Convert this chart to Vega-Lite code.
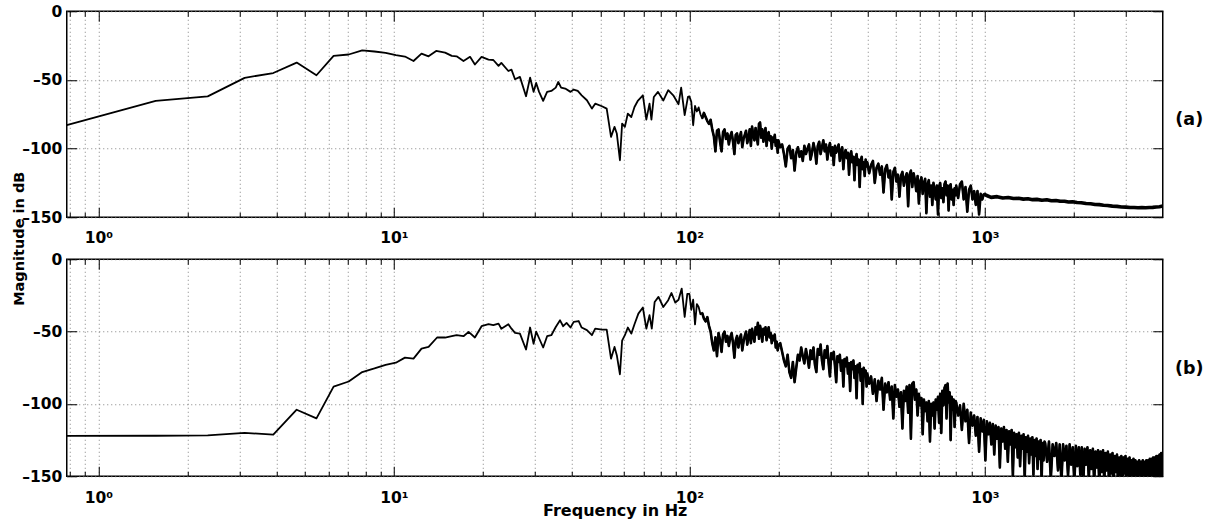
{
"$schema": "https://vega.github.io/schema/vega-lite/v6.json",
"background": "white",
"padding": {"left": 10.75, "top": 3.25, "right": 0, "bottom": 0},
"spacing": 42,
"bounds": "flush",
"config": {
 "view": {"stroke": "black", "strokeWidth": 1.5},
 "axis": {"domain": false, "tickColor": "black", "tickWidth": 1, "labelFont": "DejaVu Sans", "labelFontWeight": "bold", "labelFontSize": 15.5, "labelColor": "black", "titleFont": "DejaVu Sans", "titleFontWeight": "bold", "titleColor": "black", "gridColor": "#808080", "gridDash": [1, 3], "gridWidth": 1, "gridOpacity": 1, "labelOverlap": false, "labelFlush": false, "labelBound": false}
},
"datasets": {
"a": [
{"f":0.78125,"m":-83},{"f":1.5625,"m":-65.3},{"f":2.34375,"m":-62},{"f":3.125,"m":-48.5},{"f":3.90625,"m":-45},{"f":4.6875,"m":-37.4},{"f":5.46875,"m":-46.6},{"f":6.25,"m":-32.5},{"f":7.03125,"m":-31.5},{"f":7.8125,"m":-28.5},{"f":8.59375,"m":-29.3},{"f":9.375,"m":-30.3},{"f":10.15625,"m":-32},{"f":10.9,"m":-33},{"f":11.65,"m":-36.2},{"f":12.4,"m":-30.8},{"f":13.1,"m":-32.8},{"f":13.9,"m":-28.9},{"f":14.9,"m":-30.1},{"f":15.7,"m":-32.5},{"f":16.3,"m":-32.8},{"f":17.2,"m":-36.2},{"f":18.1,"m":-33.2},{"f":18.8,"m":-38.8},{"f":19.8,"m":-33.2},{"f":20.9,"m":-35.2},{"f":21.7,"m":-35.5},{"f":22.6,"m":-39.8},{"f":23.1,"m":-37.6},{"f":24.4,"m":-43.5},{"f":25,"m":-42.5},{"f":25.7,"m":-49.5},{"f":26.7,"m":-47.8},{"f":28,"m":-61.9},{"f":28.9,"m":-48.3},{"f":29.7,"m":-58.7},{"f":30.3,"m":-52.2},{"f":31,"m":-58.7},{"f":32,"m":-65.3},{"f":33,"m":-58.7},{"f":34.1,"m":-58},{"f":35.3,"m":-55.6},{"f":36,"m":-51.5},{"f":36.8,"m":-55.6},{"f":38,"m":-56.3},{"f":39.6,"m":-58.7},{"f":40.6,"m":-57},{"f":41.9,"m":-58},{"f":43.2,"m":-61.2},{"f":45,"m":-64.8},{"f":46.8,"m":-70.9},{"f":48,"m":-67.3},{"f":50.6,"m":-69.2},{"f":52.5,"m":-70.9},{"f":54.3,"m":-91.5},{"f":55.8,"m":-84.2},{"f":56.8,"m":-89},{"f":58.2,"m":-108.5},{"f":59.2,"m":-81.8},{"f":60.5,"m":-84.2},{"f":61.9,"m":-74.5},{"f":63.6,"m":-77},{"f":65.2,"m":-69.7},{"f":67,"m":-65},{"f":69.6,"m":-61.2},{"f":71.5,"m":-78.9},{"f":73.3,"m":-67.3},{"f":74.4,"m":-78.9},{"f":75.8,"m":-62.4},{"f":78.3,"m":-58.7},{"f":81.6,"m":-65},{"f":84.8,"m":-57.5},{"f":88.2,"m":-61.2},{"f":91.9,"m":-67.7},{"f":93.8,"m":-55.6},{"f":96.4,"m":-75.7},{"f":98.9,"m":-62.4},
{"f":100,"m":-62},{"f":101.5,"m":-66},{"f":103,"m":-83},{"f":104.5,"m":-69},{"f":106,"m":-73},{"f":107.5,"m":-70},{"f":109,"m":-75},{"f":110.5,"m":-78},{"f":112,"m":-74},{"f":113.5,"m":-77},{"f":115,"m":-80},{"f":116.5,"m":-82},{"f":118,"m":-79},{"f":119.5,"m":-86},{"f":121,"m":-91},{"f":122.5,"m":-102},{"f":124,"m":-87},{"f":125.5,"m":-86},{"f":127,"m":-95},{"f":128.5,"m":-102},{"f":130,"m":-88},{"f":131.5,"m":-86},{"f":133,"m":-93},{"f":134.5,"m":-89},{"f":136,"m":-97},{"f":137.5,"m":-91},{"f":139,"m":-88},{"f":140.5,"m":-95},{"f":142,"m":-104},{"f":143.5,"m":-90},{"f":145,"m":-89},{"f":146.5,"m":-96},{"f":148,"m":-92},{"f":149.5,"m":-88},{"f":151,"m":-99},{"f":152.5,"m":-93},{"f":154,"m":-90},{"f":155.5,"m":-87},{"f":157,"m":-96},{"f":158.5,"m":-92},{"f":160,"m":-86},{"f":161.5,"m":-98},{"f":163,"m":-84},{"f":164.5,"m":-90},{"f":166,"m":-94},{"f":167.5,"m":-85},{"f":169,"m":-91},{"f":170.5,"m":-97},{"f":172,"m":-82},{"f":173.5,"m":-81},{"f":175,"m":-92},{"f":176.5,"m":-86},{"f":178,"m":-95},{"f":179.5,"m":-89},{"f":181,"m":-85},{"f":182.5,"m":-98},{"f":184,"m":-90},{"f":185.5,"m":-88},{"f":187,"m":-94},{"f":188.5,"m":-91},{"f":190,"m":-100},{"f":191.5,"m":-92},{"f":193,"m":-95},{"f":194.5,"m":-90},{"f":196,"m":-98},{"f":197.5,"m":-94},{"f":199,"m":-103},
{"f":200,"m":-94},{"f":203,"m":-99},{"f":206,"m":-97},{"f":209,"m":-104},{"f":212,"m":-113},{"f":215,"m":-100},{"f":218,"m":-98},{"f":221,"m":-107},{"f":224,"m":-101},{"f":227,"m":-116},{"f":230,"m":-103},{"f":233,"m":-99},{"f":236,"m":-106},{"f":239,"m":-102},{"f":242,"m":-109},{"f":245,"m":-98},{"f":248,"m":-104},{"f":251,"m":-100},{"f":254,"m":-97},{"f":257,"m":-108},{"f":260,"m":-103},{"f":263,"m":-96},{"f":266,"m":-101},{"f":269,"m":-111},{"f":272,"m":-98},{"f":275,"m":-95},{"f":278,"m":-104},{"f":281,"m":-99},{"f":284,"m":-94},{"f":287,"m":-102},{"f":290,"m":-97},{"f":293,"m":-108},{"f":296,"m":-100},{"f":299,"m":-96},{"f":302,"m":-105},{"f":305,"m":-99},{"f":308,"m":-112},{"f":311,"m":-98},{"f":314,"m":-103},{"f":317,"m":-100},{"f":320,"m":-97},{"f":323,"m":-109},{"f":326,"m":-102},{"f":329,"m":-99},{"f":332,"m":-115},{"f":335,"m":-104},{"f":338,"m":-101},{"f":341,"m":-107},{"f":344,"m":-103},{"f":347,"m":-119},{"f":350,"m":-105},{"f":353,"m":-102},{"f":356,"m":-110},{"f":359,"m":-106},{"f":362,"m":-123},{"f":365,"m":-107},{"f":368,"m":-104},{"f":371,"m":-112},{"f":374,"m":-108},{"f":377,"m":-128},{"f":380,"m":-109},{"f":383,"m":-106},{"f":386,"m":-115},{"f":389,"m":-110},{"f":392,"m":-120},{"f":395,"m":-108},{"f":398,"m":-113},
{"f":400,"m":-110},{"f":406,"m":-118},{"f":412,"m":-112},{"f":418,"m":-109},{"f":424,"m":-125},{"f":430,"m":-114},{"f":436,"m":-111},{"f":442,"m":-119},{"f":448,"m":-113},{"f":454,"m":-132},{"f":460,"m":-115},{"f":466,"m":-112},{"f":472,"m":-121},{"f":478,"m":-116},{"f":484,"m":-137},{"f":490,"m":-117},{"f":496,"m":-114},{"f":502,"m":-124},{"f":508,"m":-119},{"f":514,"m":-135},{"f":520,"m":-120},{"f":526,"m":-117},{"f":532,"m":-127},{"f":538,"m":-121},{"f":544,"m":-118},{"f":550,"m":-142},{"f":556,"m":-119},{"f":562,"m":-116},{"f":568,"m":-128},{"f":574,"m":-118},{"f":580,"m":-123},{"f":586,"m":-131},{"f":592,"m":-120},{"f":598,"m":-140},{"f":604,"m":-124},{"f":610,"m":-121},{"f":616,"m":-133},{"f":622,"m":-125},{"f":628,"m":-122},{"f":634,"m":-147},{"f":640,"m":-126},{"f":646,"m":-123},{"f":652,"m":-135},{"f":658,"m":-127},{"f":664,"m":-141},{"f":670,"m":-125},{"f":676,"m":-130},{"f":682,"m":-137},{"f":688,"m":-127},{"f":694,"m":-148},{"f":700,"m":-128},{"f":706,"m":-125},{"f":712,"m":-136},{"f":718,"m":-129},{"f":724,"m":-139},{"f":730,"m":-126},{"f":736,"m":-124},{"f":742,"m":-134},{"f":748,"m":-127},{"f":754,"m":-145},{"f":760,"m":-128},{"f":766,"m":-126},{"f":772,"m":-137},{"f":778,"m":-130},{"f":784,"m":-141},{"f":790,"m":-129},{"f":796,"m":-134},
{"f":800,"m":-127},{"f":812,"m":-136},{"f":824,"m":-126},{"f":836,"m":-124},{"f":848,"m":-137},{"f":860,"m":-128},{"f":872,"m":-146},{"f":884,"m":-130},{"f":896,"m":-127},{"f":908,"m":-137},{"f":920,"m":-131},{"f":932,"m":-141},{"f":944,"m":-131},{"f":956,"m":-148},{"f":968,"m":-133},{"f":980,"m":-137},{"f":992,"m":-133},
{"f":1010,"m":-134},{"f":1050,"m":-135.5},{"f":1100,"m":-135},{"f":1150,"m":-136},{"f":1200,"m":-135.6},{"f":1250,"m":-136.4},{"f":1300,"m":-136.2},{"f":1350,"m":-136.8},{"f":1400,"m":-136.5},{"f":1450,"m":-137.2},{"f":1500,"m":-137},{"f":1560,"m":-137.6},{"f":1620,"m":-137.3},{"f":1680,"m":-138},{"f":1740,"m":-137.8},{"f":1800,"m":-138.4},{"f":1860,"m":-138.3},{"f":1920,"m":-138.9},{"f":1980,"m":-138.7},{"f":2050,"m":-139.3},{"f":2120,"m":-139.4},{"f":2200,"m":-140},{"f":2280,"m":-140.2},{"f":2360,"m":-140.7},{"f":2440,"m":-140.8},{"f":2520,"m":-141.3},{"f":2600,"m":-141.4},{"f":2700,"m":-141.9},{"f":2800,"m":-142.1},{"f":2900,"m":-142.5},{"f":3000,"m":-142.6},{"f":3100,"m":-142.9},{"f":3200,"m":-142.9},{"f":3300,"m":-143.1},{"f":3400,"m":-143},{"f":3500,"m":-143.1},{"f":3600,"m":-142.9},{"f":3700,"m":-142.8},{"f":3800,"m":-142.5},{"f":3900,"m":-142.3},{"f":4000,"m":-141.8}
],
"b": [
{"f":0.78125,"m":-122.1},{"f":1.5625,"m":-122},{"f":2.34375,"m":-121.7},{"f":3.125,"m":-120},{"f":3.90625,"m":-121.2},{"f":4.6875,"m":-104},{"f":5.46875,"m":-110},{"f":6.25,"m":-88},{"f":7.03125,"m":-84.5},{"f":7.8125,"m":-78},{"f":8.59375,"m":-75.5},{"f":9.375,"m":-73},{"f":10.15625,"m":-71.5},{"f":10.9,"m":-68},{"f":11.65,"m":-68.7},{"f":12.4,"m":-61.8},{"f":13.1,"m":-60.6},{"f":14,"m":-54.1},{"f":14.9,"m":-54.1},{"f":15.7,"m":-53.2},{"f":16.3,"m":-52.5},{"f":17.2,"m":-53.2},{"f":17.9,"m":-50.2},{"f":18.8,"m":-54.1},{"f":19.8,"m":-46.3},{"f":20.9,"m":-44.9},{"f":21.7,"m":-45.6},{"f":22.6,"m":-44.5},{"f":23.1,"m":-48},{"f":24.4,"m":-44.9},{"f":25,"m":-48},{"f":25.7,"m":-50.9},{"f":26.7,"m":-51.4},{"f":28,"m":-62.4},{"f":28.9,"m":-47.2},{"f":29.7,"m":-58.4},{"f":30.3,"m":-50},{"f":31,"m":-54.6},{"f":32,"m":-61},{"f":33,"m":-53.2},{"f":34.1,"m":-52.5},{"f":35.3,"m":-46.8},{"f":36.5,"m":-42.2},{"f":37.4,"m":-46.3},{"f":38.4,"m":-44},{"f":39.6,"m":-47.2},{"f":40.6,"m":-43.3},{"f":42.2,"m":-42.7},{"f":43.2,"m":-47.2},{"f":45,"m":-49},{"f":46.8,"m":-52.5},{"f":48,"m":-48},{"f":50.6,"m":-48.7},{"f":52.5,"m":-48.7},{"f":54.3,"m":-68.7},{"f":55.8,"m":-60.6},{"f":56.8,"m":-66.3},{"f":58.2,"m":-79.5},{"f":59.2,"m":-56.3},{"f":60.5,"m":-52.5},{"f":61.9,"m":-47.2},{"f":63.6,"m":-51.4},{"f":65.2,"m":-44.9},{"f":67.2,"m":-37.6},{"f":69.6,"m":-33.4},{"f":71.5,"m":-48},{"f":73.3,"m":-38.6},{"f":74.6,"m":-48},{"f":76.3,"m":-29.5},{"f":78.6,"m":-26},{"f":81.6,"m":-33},{"f":84.8,"m":-28.3},{"f":87,"m":-23.3},{"f":89.6,"m":-30},{"f":91.9,"m":-28},{"f":94.2,"m":-20.3},{"f":96.4,"m":-39.9},{"f":98.4,"m":-24},
{"f":100,"m":-24},{"f":101.5,"m":-35},{"f":103,"m":-28},{"f":104.5,"m":-45},{"f":106,"m":-31},{"f":107.5,"m":-33},{"f":109,"m":-38},{"f":110.5,"m":-37},{"f":112,"m":-41},{"f":113.5,"m":-43},{"f":115,"m":-40},{"f":116.5,"m":-46},{"f":118,"m":-50},{"f":119.5,"m":-58},{"f":121,"m":-63},{"f":122.5,"m":-54},{"f":124,"m":-67},{"f":125.5,"m":-51},{"f":127,"m":-56},{"f":128.5,"m":-64},{"f":130,"m":-52},{"f":131.5,"m":-50},{"f":133,"m":-57},{"f":134.5,"m":-53},{"f":136,"m":-60},{"f":137.5,"m":-54},{"f":139,"m":-51},{"f":140.5,"m":-58},{"f":142,"m":-68},{"f":143.5,"m":-56},{"f":145,"m":-53},{"f":146.5,"m":-61},{"f":148,"m":-55},{"f":149.5,"m":-52},{"f":151,"m":-63},{"f":152.5,"m":-57},{"f":154,"m":-53},{"f":155.5,"m":-50},{"f":157,"m":-59},{"f":158.5,"m":-54},{"f":160,"m":-49},{"f":161.5,"m":-58},{"f":163,"m":-48},{"f":164.5,"m":-53},{"f":166,"m":-57},{"f":167.5,"m":-47},{"f":169,"m":-52},{"f":170.5,"m":-44},{"f":172,"m":-55},{"f":173.5,"m":-46},{"f":175,"m":-50},{"f":176.5,"m":-57},{"f":178,"m":-48},{"f":179.5,"m":-52},{"f":181,"m":-47},{"f":182.5,"m":-56},{"f":184,"m":-50},{"f":185.5,"m":-47},{"f":187,"m":-54},{"f":188.5,"m":-51},{"f":190,"m":-58},{"f":191.5,"m":-53},{"f":193,"m":-56},{"f":194.5,"m":-52},{"f":196,"m":-61},{"f":197.5,"m":-57},{"f":199,"m":-63},
{"f":200,"m":-60},{"f":203,"m":-58},{"f":206,"m":-64},{"f":209,"m":-70},{"f":212,"m":-74},{"f":215,"m":-66},{"f":218,"m":-78},{"f":221,"m":-82},{"f":224,"m":-71},{"f":227,"m":-85},{"f":230,"m":-75},{"f":233,"m":-66},{"f":236,"m":-70},{"f":239,"m":-61},{"f":242,"m":-67},{"f":245,"m":-72},{"f":248,"m":-62},{"f":251,"m":-68},{"f":254,"m":-75},{"f":257,"m":-63},{"f":260,"m":-69},{"f":263,"m":-61},{"f":266,"m":-73},{"f":269,"m":-78},{"f":272,"m":-62},{"f":275,"m":-66},{"f":278,"m":-59},{"f":281,"m":-70},{"f":284,"m":-76},{"f":287,"m":-63},{"f":290,"m":-68},{"f":293,"m":-60},{"f":296,"m":-72},{"f":299,"m":-81},{"f":302,"m":-65},{"f":305,"m":-69},{"f":308,"m":-64},{"f":311,"m":-74},{"f":314,"m":-85},{"f":317,"m":-67},{"f":320,"m":-71},{"f":323,"m":-66},{"f":326,"m":-77},{"f":329,"m":-70},{"f":332,"m":-88},{"f":335,"m":-69},{"f":338,"m":-74},{"f":341,"m":-68},{"f":344,"m":-79},{"f":347,"m":-72},{"f":350,"m":-91},{"f":353,"m":-71},{"f":356,"m":-76},{"f":359,"m":-70},{"f":362,"m":-82},{"f":365,"m":-74},{"f":368,"m":-96},{"f":371,"m":-73},{"f":374,"m":-78},{"f":377,"m":-72},{"f":380,"m":-84},{"f":383,"m":-76},{"f":386,"m":-100},{"f":389,"m":-75},{"f":392,"m":-80},{"f":395,"m":-77},{"f":398,"m":-88},
{"f":400,"m":-79},{"f":406,"m":-86},{"f":412,"m":-81},{"f":418,"m":-93},{"f":424,"m":-83},{"f":430,"m":-98},{"f":436,"m":-84},{"f":442,"m":-90},{"f":448,"m":-82},{"f":454,"m":-104},{"f":460,"m":-86},{"f":466,"m":-92},{"f":472,"m":-85},{"f":478,"m":-97},{"f":484,"m":-88},{"f":490,"m":-110},{"f":496,"m":-87},{"f":502,"m":-95},{"f":508,"m":-90},{"f":514,"m":-102},{"f":520,"m":-92},{"f":526,"m":-117},{"f":532,"m":-91},{"f":538,"m":-98},{"f":544,"m":-88},{"f":550,"m":-106},{"f":556,"m":-87},{"f":562,"m":-124},{"f":568,"m":-86},{"f":574,"m":-85},{"f":580,"m":-97},{"f":586,"m":-90},{"f":592,"m":-108},{"f":598,"m":-93},{"f":604,"m":-101},{"f":610,"m":-96},{"f":616,"m":-121},{"f":622,"m":-97},{"f":628,"m":-105},{"f":634,"m":-99},{"f":640,"m":-112},{"f":646,"m":-98},{"f":652,"m":-126},{"f":658,"m":-100},{"f":664,"m":-108},{"f":670,"m":-99},{"f":676,"m":-117},{"f":682,"m":-97},{"f":688,"m":-104},{"f":694,"m":-95},{"f":700,"m":-113},{"f":706,"m":-93},{"f":712,"m":-120},{"f":718,"m":-91},{"f":724,"m":-101},{"f":730,"m":-89},{"f":736,"m":-87},{"f":742,"m":-110},{"f":748,"m":-86},{"f":754,"m":-99},{"f":760,"m":-92},{"f":766,"m":-125},{"f":772,"m":-95},{"f":778,"m":-104},{"f":784,"m":-97},{"f":790,"m":-116},{"f":796,"m":-98},
{"f":800,"m":-99},{"f":812,"m":-108},{"f":824,"m":-101},{"f":836,"m":-118},{"f":848,"m":-100},{"f":860,"m":-112},{"f":872,"m":-104},{"f":884,"m":-127},{"f":896,"m":-106},{"f":908,"m":-115},{"f":920,"m":-108},{"f":932,"m":-122},{"f":944,"m":-109},{"f":956,"m":-133},{"f":968,"m":-110},{"f":980,"m":-119},{"f":992,"m":-111},{"f":1004,"m":-139},{"f":1016,"m":-112},{"f":1028,"m":-121},{"f":1040,"m":-113},{"f":1052,"m":-128},{"f":1064,"m":-114},{"f":1076,"m":-135},{"f":1088,"m":-115},{"f":1100,"m":-124},{"f":1112,"m":-116},{"f":1124,"m":-144},{"f":1136,"m":-117},{"f":1148,"m":-126},{"f":1160,"m":-116},{"f":1172,"m":-131},{"f":1184,"m":-118},{"f":1196,"m":-140},{"f":1208,"m":-119},{"f":1220,"m":-128},{"f":1232,"m":-118},{"f":1244,"m":-150},{"f":1256,"m":-120},{"f":1268,"m":-130},{"f":1280,"m":-121},{"f":1292,"m":-137},{"f":1304,"m":-120},{"f":1316,"m":-143},{"f":1328,"m":-122},{"f":1340,"m":-131},{"f":1352,"m":-121},{"f":1364,"m":-152},{"f":1376,"m":-123},{"f":1388,"m":-133},{"f":1400,"m":-122},{"f":1412,"m":-141},{"f":1424,"m":-124},{"f":1436,"m":-135},{"f":1448,"m":-123},{"f":1460,"m":-149},{"f":1472,"m":-125},{"f":1484,"m":-136},{"f":1496,"m":-124},{"f":1508,"m":-145},{"f":1520,"m":-126},{"f":1532,"m":-138},{"f":1544,"m":-125},{"f":1556,"m":-153},{"f":1568,"m":-127},{"f":1580,"m":-139},{"f":1592,"m":-126},
{"f":1600,"m":-127},{"f":1624,"m":-140},{"f":1648,"m":-126},{"f":1672,"m":-152},{"f":1696,"m":-128},{"f":1720,"m":-136},{"f":1744,"m":-127},{"f":1768,"m":-146},{"f":1792,"m":-128},{"f":1816,"m":-154},{"f":1840,"m":-128},{"f":1864,"m":-139},{"f":1888,"m":-129},{"f":1912,"m":-150},{"f":1936,"m":-128},{"f":1960,"m":-142},{"f":1984,"m":-130},{"f":2008,"m":-155},{"f":2032,"m":-129},{"f":2056,"m":-143},{"f":2080,"m":-130},{"f":2104,"m":-149},{"f":2128,"m":-130},{"f":2152,"m":-156},{"f":2176,"m":-131},{"f":2200,"m":-142},{"f":2224,"m":-130},{"f":2248,"m":-152},{"f":2272,"m":-132},{"f":2296,"m":-145},{"f":2320,"m":-131},{"f":2344,"m":-155},{"f":2368,"m":-133},{"f":2392,"m":-144},{"f":2416,"m":-132},{"f":2440,"m":-157},{"f":2464,"m":-133},{"f":2488,"m":-147},{"f":2512,"m":-132},{"f":2536,"m":-154},{"f":2560,"m":-134},{"f":2584,"m":-146},{"f":2608,"m":-133},{"f":2632,"m":-156},{"f":2656,"m":-135},{"f":2680,"m":-148},{"f":2704,"m":-134},{"f":2728,"m":-155},{"f":2752,"m":-136},{"f":2776,"m":-147},{"f":2800,"m":-135},{"f":2824,"m":-157},{"f":2848,"m":-137},{"f":2872,"m":-150},{"f":2896,"m":-136},{"f":2920,"m":-155},{"f":2944,"m":-137},{"f":2968,"m":-148},{"f":2992,"m":-136},{"f":3016,"m":-157},{"f":3040,"m":-138},{"f":3064,"m":-150},{"f":3088,"m":-137},{"f":3112,"m":-156},{"f":3136,"m":-139},{"f":3160,"m":-149},{"f":3184,"m":-138},
{"f":3208,"m":-156},{"f":3232,"m":-139},{"f":3256,"m":-150},{"f":3280,"m":-140},{"f":3304,"m":-157},{"f":3328,"m":-139},{"f":3352,"m":-149},{"f":3376,"m":-140},{"f":3400,"m":-156},{"f":3424,"m":-139},{"f":3448,"m":-151},{"f":3472,"m":-140},{"f":3496,"m":-157},{"f":3520,"m":-139},{"f":3544,"m":-150},{"f":3568,"m":-139},{"f":3592,"m":-156},{"f":3616,"m":-138},{"f":3640,"m":-149},{"f":3664,"m":-138},{"f":3688,"m":-157},{"f":3712,"m":-137},{"f":3736,"m":-150},{"f":3760,"m":-137},{"f":3784,"m":-156},{"f":3808,"m":-136},{"f":3832,"m":-149},{"f":3856,"m":-136},{"f":3880,"m":-157},{"f":3904,"m":-135},{"f":3928,"m":-150},{"f":3952,"m":-134},{"f":3976,"m":-156},{"f":4000,"m":-135}
]
},
"vconcat": [
{
 "width": 1096, "height": 206,
 "data": {"name": "a"},
 "layer": [
  {"mark": {"type": "line", "color": "black", "strokeWidth": 1.8, "strokeJoin": "round", "clip": true},
   "encoding": {
    "x": {"field": "f", "type": "quantitative", "scale": {"type": "log", "domain": [0.78125, 4000], "nice": false},
      "axis": {"orient": "bottom", "values": [0.8,0.9,1,2,3,4,5,6,7,8,9,10,20,30,40,50,60,70,80,90,100,200,300,400,500,600,700,800,900,1000,2000,3000], "grid": true, "title": null,
        "tickSize": {"condition": {"test": "datum.value == 1 || datum.value == 10 || datum.value == 100 || datum.value == 1000", "value": -10}, "value": -5},
        "labelExpr": "datum.value == 1 ? '10⁰' : datum.value == 10 ? '10¹' : datum.value == 100 ? '10²' : datum.value == 1000 ? '10³' : ''",
        "labelPadding": 35, "labelBaseline": "alphabetic"}},
    "y": {"field": "m", "type": "quantitative", "scale": {"domain": [-150, 0], "nice": false},
      "axis": {"orient": "left", "values": [0,-50,-100,-150], "grid": true, "tickSize": -10, "labelPadding": 15,
        "labelExpr": "datum.value == 0 ? '0' : '–' + abs(datum.value)",
        "title": "Magnitude in dB", "titleAngle": -90, "titleX": -47, "titleY": 227, "titleAlign": "center", "titleBaseline": "middle", "titleFontSize": 14.5}}
   }},
  {"transform": [{"filter": "datum.f >= 110 && datum.f < 1000"}],
   "mark": {"type": "line", "color": "black", "strokeWidth": 2.6, "strokeJoin": "round", "clip": true},
   "encoding": {
    "x": {"field": "f", "type": "quantitative", "scale": {"type": "log", "domain": [0.78125, 4000], "nice": false}, "axis": null},
    "y": {"field": "m", "type": "quantitative", "scale": {"domain": [-150, 0], "nice": false}, "axis": null}
   }},
  {"transform": [{"filter": "datum.f >= 990"}],
   "mark": {"type": "line", "color": "black", "strokeWidth": 3.6, "strokeJoin": "round", "clip": true},
   "encoding": {
    "x": {"field": "f", "type": "quantitative", "scale": {"type": "log", "domain": [0.78125, 4000], "nice": false}, "axis": null},
    "y": {"field": "m", "type": "quantitative", "scale": {"domain": [-150, 0], "nice": false}, "axis": null}
   }},
  {"mark": {"type": "line", "opacity": 0, "clip": true},
   "encoding": {
    "x": {"field": "f", "type": "quantitative", "scale": {"type": "log", "domain": [0.78125, 4000], "nice": false},
      "axis": {"orient": "top", "values": [0.8,0.9,1,2,3,4,5,6,7,8,9,10,20,30,40,50,60,70,80,90,100,200,300,400,500,600,700,800,900,1000,2000,3000], "grid": false, "labels": false, "title": null,
        "tickSize": {"condition": {"test": "datum.value == 1 || datum.value == 10 || datum.value == 100 || datum.value == 1000", "value": -10}, "value": -5}}},
    "y": {"field": "m", "type": "quantitative", "scale": {"domain": [-150, 0], "nice": false},
      "axis": {"orient": "right", "values": [0,-50,-100,-150], "grid": false, "labels": false, "tickSize": -10,
        "title": "(a)", "titleAngle": 0, "titleX": 26, "titleY": 108, "titleAlign": "center", "titleBaseline": "middle", "titleFontSize": 17.5}}
   }}
 ],
 "resolve": {"axis": {"x": "independent", "y": "independent"}}
},
{
 "width": 1096, "height": 217,
 "data": {"name": "b"},
 "layer": [
  {"mark": {"type": "line", "color": "black", "strokeWidth": 1.8, "strokeJoin": "round", "clip": true},
   "encoding": {
    "x": {"field": "f", "type": "quantitative", "scale": {"type": "log", "domain": [0.78125, 4000], "nice": false},
      "axis": {"orient": "bottom", "values": [0.8,0.9,1,2,3,4,5,6,7,8,9,10,20,30,40,50,60,70,80,90,100,200,300,400,500,600,700,800,900,1000,2000,3000], "grid": true,
        "tickSize": {"condition": {"test": "datum.value == 1 || datum.value == 10 || datum.value == 100 || datum.value == 1000", "value": -10}, "value": -5},
        "labelExpr": "datum.value == 1 ? '10⁰' : datum.value == 10 ? '10¹' : datum.value == 100 ? '10²' : datum.value == 1000 ? '10³' : ''",
        "labelPadding": 36, "labelBaseline": "alphabetic",
        "title": "Frequency in Hz", "titleX": 548, "titleY": 39, "titleAlign": "center", "titleBaseline": "alphabetic", "titleFontSize": 16}},
    "y": {"field": "m", "type": "quantitative", "scale": {"domain": [-150, 0], "nice": false},
      "axis": {"orient": "left", "values": [0,-50,-100,-150], "grid": true, "tickSize": -10, "labelPadding": 15,
        "labelExpr": "datum.value == 0 ? '0' : '–' + abs(datum.value)", "title": null}}
   }},
  {"transform": [{"filter": "datum.f >= 110"}],
   "mark": {"type": "line", "color": "black", "strokeWidth": 2.6, "strokeJoin": "round", "clip": true},
   "encoding": {
    "x": {"field": "f", "type": "quantitative", "scale": {"type": "log", "domain": [0.78125, 4000], "nice": false}, "axis": null},
    "y": {"field": "m", "type": "quantitative", "scale": {"domain": [-150, 0], "nice": false}, "axis": null}
   }},
  {"mark": {"type": "line", "opacity": 0, "clip": true},
   "encoding": {
    "x": {"field": "f", "type": "quantitative", "scale": {"type": "log", "domain": [0.78125, 4000], "nice": false},
      "axis": {"orient": "top", "values": [0.8,0.9,1,2,3,4,5,6,7,8,9,10,20,30,40,50,60,70,80,90,100,200,300,400,500,600,700,800,900,1000,2000,3000], "grid": false, "labels": false, "title": null,
        "tickSize": {"condition": {"test": "datum.value == 1 || datum.value == 10 || datum.value == 100 || datum.value == 1000", "value": -10}, "value": -5}}},
    "y": {"field": "m", "type": "quantitative", "scale": {"domain": [-150, 0], "nice": false},
      "axis": {"orient": "right", "values": [0,-50,-100,-150], "grid": false, "labels": false, "tickSize": -10,
        "title": "(b)", "titleAngle": 0, "titleX": 26, "titleY": 109, "titleAlign": "center", "titleBaseline": "middle", "titleFontSize": 17.5}}
   }}
 ],
 "resolve": {"axis": {"x": "independent", "y": "independent"}}
}
]
}
